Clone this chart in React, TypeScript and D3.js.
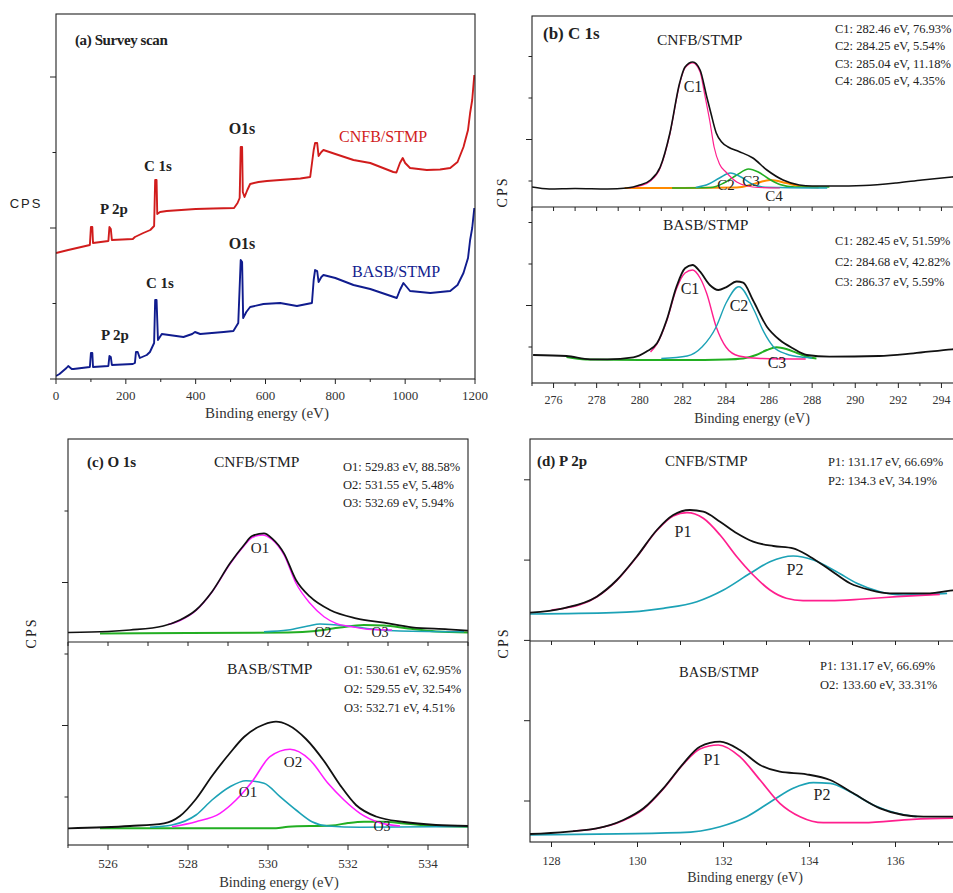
import React from "react";
import * as d3 from "d3";

type Pt = [number, number];

const SERIF = "'Liberation Serif', 'Times New Roman', Times, serif";
const SANS = "'Liberation Sans', Arial, sans-serif";

const RED = "#d11c1c";
const NAVY = "#101c8e";
const PINK = "#ff1f8e";
const MAGENTA = "#ff1cff";
const CYAN = "#1ca2b6";
const GREEN = "#22ae22";
const ORANGE = "#ff8a00";

// ---------- (a) survey scan, intensity in arbitrary units ----------
const surveyMajor = [0, 200, 400, 600, 800, 1000, 1200];
const surveyMinor = [100, 300, 500, 700, 900, 1100];

const cnfbSurvey: Pt[] = [
  [0, 126], [35, 129], [97, 134], [100, 152], [104, 152], [106, 136], [150, 138],
  [153, 152], [157, 150], [160, 139], [220, 140], [226, 142], [232, 143], [250, 146],
  [270, 149], [281, 153], [284, 199], [288, 199], [290, 165], [298, 167], [317, 168],
  [400, 170], [450, 170.5], [510, 171], [520, 176], [526, 181], [529, 232], [533, 232],
  [535, 187], [540, 182], [548, 189], [556, 195], [580, 197], [604, 198], [642, 199],
  [700, 200.5], [728, 202], [738, 229], [742, 236], [748, 236], [752, 223], [760, 227],
  [766, 229], [800, 225], [852, 219], [900, 216], [966, 207], [975, 206.5], [985, 216],
  [993, 221], [1000, 216], [1014, 211], [1062, 209], [1100, 209.5], [1129, 211],
  [1150, 217], [1167, 232], [1180, 249], [1186, 266], [1192, 279], [1198, 304],
];

const basbSurvey: Pt[] = [
  [0, 3], [10, 5], [30, 11], [35, 13], [45, 10], [50, 10], [97, 12], [100, 26], [104, 26],
  [106, 12], [150, 13], [153, 23], [157, 22], [160, 14], [220, 15], [226, 16], [229, 27],
  [234, 27], [240, 21], [260, 24], [269, 27], [281, 36], [284, 79], [288, 79], [292, 39],
  [303, 45], [365, 42], [390, 45], [398, 47], [413, 45], [480, 47], [508, 48], [522, 56],
  [529, 119], [533, 117], [536, 61], [545, 67], [556, 72], [594, 75], [642, 76], [690, 73],
  [733, 76], [738, 99], [742, 109], [748, 108], [752, 97], [760, 102], [766, 104], [800, 101],
  [852, 94], [900, 90], [976, 81], [985, 89], [995, 96], [1014, 88], [1072, 86], [1129, 88],
  [1150, 94], [1167, 106], [1180, 121], [1186, 139], [1192, 151], [1198, 171],
];

// ---------- (b) C 1s ----------
const c1sMajor = [276, 278, 280, 282, 284, 286, 288, 290, 292, 294];
const c1sMinor = [275, 277, 279, 281, 283, 285, 287, 289, 291, 293, 295];

const cnfbC1sEnv: Pt[] = [
  [275, 196], [275.8, 194], [277, 194.5], [278.5, 194], [279.4, 195], [280, 198], [280.5, 203],
  [280.95, 216], [281.4, 250], [281.85, 300], [282.1, 316], [282.46, 321], [282.8, 313],
  [283.1, 287], [283.3, 270], [283.55, 250], [283.8, 241], [284.1, 236], [284.6, 231.5],
  [285.25, 225], [285.9, 213], [286.65, 203], [287.4, 198], [288, 197], [289, 197],
  [290.4, 197.5], [291.9, 200], [293.1, 203], [294.5, 206], [295, 207],
];
const cnfbC1: Pt[] = [
  [279.5, 195], [280, 197], [280.5, 202], [280.95, 215], [281.4, 249], [281.85, 299],
  [282.1, 315], [282.46, 320], [282.8, 311], [283, 290], [283.25, 262], [283.45, 236],
  [283.7, 219], [284, 211], [284.5, 201], [285, 197], [285.5, 195.5], [286.5, 195],
];
const cnfbC2: Pt[] = [
  [282.6, 195.5], [283.2, 199], [283.7, 205], [284.2, 210], [284.7, 206], [285.2, 199],
  [285.7, 196], [286.5, 195.5], [288.7, 195],
];
const cnfbC3: Pt[] = [
  [281.5, 195], [283.3, 195.5], [283.9, 200], [284.5, 208], [285.05, 214], [285.5, 211],
  [286, 204], [286.5, 198.5], [287.2, 196], [288.8, 196],
];
const cnfbC4: Pt[] = [
  [279.3, 195], [282, 195], [284.5, 195.5], [285.3, 199], [286.05, 203], [286.8, 200],
  [287.5, 196.5], [288.3, 195.5],
];

const basbC1sEnv: Pt[] = [
  [275.05, 28], [276.6, 27], [277.7, 23.7], [278.5, 23.7], [279.7, 25.7], [280.3, 31.3],
  [280.8, 39.7], [281.25, 63], [281.7, 96], [282.1, 114.7], [282.45, 118], [282.8, 111.3],
  [283.25, 98], [283.65, 93], [284, 95.7], [284.5, 101.5], [284.8, 100.3], [285.25, 83],
  [285.9, 56.3], [286.5, 43], [287.1, 34.7], [287.75, 28], [288.8, 26.3], [291.1, 27],
  [292.7, 29.7], [294.5, 33.7], [295, 34.5],
];
const basbC1: Pt[] = [
  [280.5, 31], [280.8, 39], [281.25, 62], [281.7, 94], [282.1, 110], [282.45, 113],
  [282.8, 105], [283.1, 90], [283.55, 56], [284, 36], [284.6, 27], [285.6, 24.5], [287.7, 24],
];
const basbC2: Pt[] = [
  [281, 24.5], [282.2, 27], [282.9, 36.3], [283.55, 56.3], [284, 79.7], [284.6, 96.3],
  [285.3, 73], [285.75, 51.3], [286.2, 36.3], [286.8, 29], [287.6, 25.7], [288, 25],
];
const basbC3: Pt[] = [
  [276.6, 26], [277.5, 23.5], [280, 23], [282, 23], [284, 23.5], [284.8, 24.5], [285.4, 28],
  [285.9, 33], [286.35, 35.7], [286.8, 34], [287.3, 30], [287.8, 26], [288.2, 24.5],
];

// ---------- (c) O 1s ----------
const o1sMajor = [526, 528, 530, 532, 534];
const o1sMinor = [525, 527, 529, 531, 533, 535];

const cnfbO1sEnv: Pt[] = [
  [525, 212.5], [526, 213.5], [526.55, 215], [527.38, 219], [527.8, 225], [528.2, 235],
  [528.6, 253.3], [529.05, 281.7], [529.4, 300], [529.6, 309], [529.9, 311.7], [530.1, 306.7],
  [530.4, 291.7], [530.7, 265], [531.05, 248.3], [531.55, 235], [532.2, 226.7], [532.9, 222.3],
  [533.6, 217.7], [534.5, 215.7], [535, 214.3],
];
const cnfbO1: Pt[] = [
  [527.5, 220.5], [527.8, 224.5], [528.2, 234.5], [528.6, 253], [529.05, 281], [529.4, 299],
  [529.6, 307.5], [529.85, 310], [530.1, 305.5], [530.4, 290], [530.7, 261.7], [531.05, 241.7],
  [531.4, 228.3], [531.7, 221.7], [532.1, 218.3], [532.5, 215.7], [533.1, 215],
];
const cnfbO2: Pt[] = [
  [529.9, 213.3], [530.5, 215], [531, 219], [531.3, 221], [532, 219], [532.6, 216],
  [533.3, 214], [534.9, 213.3],
];
const cnfbO3: Pt[] = [
  [525.8, 211.5], [528, 212], [530.5, 212.5], [531.2, 214], [531.8, 217.5], [532.4, 220],
  [532.9, 219.5], [533.5, 216.5], [534.2, 213.5], [535, 212.5],
];

const basbO1sEnv: Pt[] = [
  [525, 16.7], [526.55, 19], [527.4, 21.7], [527.8, 29], [528.2, 46], [528.6, 69],
  [529.05, 92], [529.4, 108], [529.9, 120.5], [530.2, 123.3], [530.5, 120], [530.95, 106],
  [531.4, 84], [531.8, 60], [532.2, 40], [532.7, 28.5], [533.4, 23], [534.2, 20], [535, 19],
];
const basbO2: Pt[] = [
  [527.6, 18.3], [528.2, 23.3], [528.8, 31.7], [529.2, 45], [529.6, 63.3], [530.05, 88.3],
  [530.55, 95.7], [531.05, 85], [531.5, 61.7], [531.9, 45], [532.3, 31.7], [532.8, 22.3], [533.3, 19],
];
const basbO1: Pt[] = [
  [527.05, 17.7], [527.6, 20], [528.2, 30], [528.6, 45], [529.05, 58.3], [529.45, 64.3],
  [529.9, 61.7], [530.3, 48.3], [530.7, 35], [531.1, 23.3], [531.5, 19], [532.3, 17.7], [535, 18.5],
];
const basbO3: Pt[] = [
  [525.8, 16.7], [528, 16.7], [530.2, 16.7], [530.5, 18.3], [531.6, 19.5], [532, 22],
  [532.4, 23.3], [532.9, 23.3], [533.4, 21.5], [534, 19.5], [535, 18.3],
];

// ---------- (d) P 2p ----------
const p2pMajor = [128, 130, 132, 134, 136];
const p2pMinor = [129, 131, 133, 135, 137];

const cnfbP2pEnv: Pt[] = [
  [127.5, 229.3], [128.27, 233.7], [129.05, 245.3], [129.52, 262], [129.98, 285.3],
  [130.45, 312], [130.83, 327], [131.22, 332], [131.53, 330.3], [131.92, 320.3], [132.31, 308.7],
  [132.69, 300.3], [133.16, 296], [133.62, 293.7], [134.01, 285.3], [134.48, 272], [134.94, 258.7],
  [135.41, 252], [135.87, 248.7], [136.8, 248.7], [137.27, 251.3], [137.5, 252],
];
const cnfbP1: Pt[] = [
  [128, 232], [128.27, 233.5], [129.05, 245], [129.52, 261.7], [129.98, 285], [130.45, 311.5],
  [130.83, 326], [131.15, 329.3], [131.53, 323.7], [131.92, 307], [132.31, 285.3], [132.69, 267],
  [133.08, 252], [133.46, 243.7], [133.85, 241.3], [134.48, 241.3], [135.25, 243], [136.03, 245.3],
  [137.03, 247.7],
];
const cnfbP2: Pt[] = [
  [127.5, 228], [129.44, 229.3], [130.6, 233.7], [131.38, 240.3], [132, 252], [132.62, 268.7],
  [133.08, 280.3], [133.62, 286], [134.09, 282], [134.63, 270.3], [135.1, 258.7], [135.64, 250.3],
  [136.18, 247], [137.2, 248.7],
];

const basbP2pEnv: Pt[] = [
  [127.5, 8], [129.05, 13.7], [129.67, 22], [130.14, 33.7], [130.6, 53.7], [131.07, 78.7],
  [131.45, 95.3], [131.92, 100.3], [132.38, 92], [132.85, 77], [133.31, 70.3], [133.93, 67.7],
  [134.48, 62], [135.02, 48.7], [135.64, 33.7], [136.18, 27], [136.65, 25.3], [137.5, 25.3],
];
const basbP1: Pt[] = [
  [128.5, 11], [129.05, 13.5], [129.67, 21.5], [130.14, 33], [130.6, 53], [131.07, 78],
  [131.45, 93], [131.88, 97], [132.38, 85.3], [132.85, 62], [133.31, 38.7], [133.78, 25.3],
  [134.32, 19.3], [135.25, 19.3], [136.4, 22.7], [137.5, 24],
];
const basbP2: Pt[] = [
  [127.5, 7], [130.99, 9.3], [131.92, 15.3], [132.54, 25.3], [133.16, 42], [133.62, 53.7],
  [134.09, 59.3], [134.48, 58.7], [134.94, 50.3], [135.48, 37], [136.03, 28.7], [136.49, 25.3],
];

// ---------- legend texts ----------
const c1sCnfbLegend = ["C1: 282.46 eV, 76.93%", "C2: 284.25 eV, 5.54%", "C3: 285.04 eV, 11.18%", "C4: 286.05 eV, 4.35%"];
const c1sBasbLegend = ["C1: 282.45 eV, 51.59%", "C2: 284.68 eV, 42.82%", "C3: 286.37 eV, 5.59%"];
const o1sCnfbLegend = ["O1: 529.83 eV, 88.58%", "O2: 531.55 eV, 5.48%", "O3: 532.69 eV, 5.94%"];
const o1sBasbLegend = ["O1: 530.61 eV, 62.95%", "O2: 529.55 eV, 32.54%", "O3: 532.71 eV, 4.51%"];
const p2pCnfbLegend = ["P1: 131.17 eV, 66.69%", "P2: 134.3 eV, 34.19%"];
const p2pBasbLegend = ["P1: 131.17 eV, 66.69%", "O2: 133.60 eV, 33.31%"];

interface Trace { data: Pt[]; color: string; width: number; sub: number }

interface PanelProps {
  id: string;
  left: number; right: number; top: number; bottom: number; split?: number;
  xDomain: [number, number];
  xMajor: number[]; xMinor: number[];
  yStart: number; yStep: number; yMajor: (i: number) => boolean;
  traces: Trace[];
  smooth: boolean;
  tickFont: number; tickLabelY: number;
  xLabelX: number; xLabelY: number; xLabelFont: number;
  children?: React.ReactNode;
}

function Panel(p: PanelProps) {
  const x = d3.scaleLinear().domain(p.xDomain).range([p.left, p.right]);
  const y = d3.scaleLinear().domain([0, p.bottom - p.top]).range([p.bottom, p.top]);
  const line = d3.line<Pt>()
    .x((d) => x(d[0]))
    .y((d) => y(d[1]))
    .curve(p.smooth ? d3.curveMonotoneX : d3.curveLinear);
  const subs = p.split ? [[p.top, p.split], [p.split, p.bottom]] : [[p.top, p.bottom]];
  const yTicks = d3.range(p.yStart, p.bottom - p.top - 5, p.yStep);
  const ink = "#222";
  return (
    <g>
      <defs>
        {subs.map(([t, b], i) => (
          <clipPath id={`${p.id}-clip${i}`} key={i}>
            <rect x={p.left} y={t} width={p.right - p.left} height={b - t} />
          </clipPath>
        ))}
      </defs>
      {p.traces.map((tr, i) => (
        <path key={i} d={line(tr.data) || ""} fill="none" stroke={tr.color} strokeWidth={tr.width}
          strokeLinejoin="round" clipPath={`url(#${p.id}-clip${tr.sub})`} />
      ))}
      <rect x={p.left} y={p.top} width={p.right - p.left} height={p.bottom - p.top}
        fill="none" stroke={ink} strokeWidth={1.1} />
      {p.split !== undefined && (
        <g>
          <line x1={p.left} x2={p.right} y1={p.split} y2={p.split} stroke={ink} strokeWidth={1.1} />
          {[...p.xMajor, ...p.xMinor].map((v) => (
            <line key={`s${v}`} x1={x(v)} x2={x(v)} y1={p.split} y2={p.split! + 4} stroke={ink} strokeWidth={1} />
          ))}
        </g>
      )}
      {p.xMajor.map((v) => (
        <g key={`M${v}`}>
          <line x1={x(v)} x2={x(v)} y1={p.bottom} y2={p.bottom + 5} stroke={ink} strokeWidth={1} />
          <text x={x(v)} y={p.tickLabelY} fontSize={p.tickFont} textAnchor="middle" fill="#333">{v}</text>
        </g>
      ))}
      {p.xMinor.map((v) => (
        <line key={`m${v}`} x1={x(v)} x2={x(v)} y1={p.bottom} y2={p.bottom + 3} stroke={ink} strokeWidth={1} />
      ))}
      {yTicks.map((v, i) => (
        <line key={`y${i}`} x1={p.left} x2={p.left - (p.yMajor(i) ? 6 : 3.5)} y1={y(v)} y2={y(v)}
          stroke={ink} strokeWidth={1} />
      ))}
      <text x={p.xLabelX} y={p.xLabelY} fontSize={p.xLabelFont} textAnchor="middle" fill="#333">
        Binding energy (eV)
      </text>
      {p.children}
    </g>
  );
}

function Lines({ x, y0, dy, lines, size }: { x: number; y0: number; dy: number; lines: string[]; size: number }) {
  return (
    <g>
      {lines.map((s, i) => (
        <text key={i} x={x} y={y0 + i * dy} fontSize={size} fill="#222">{s}</text>
      ))}
    </g>
  );
}

function Lbl({ x, y, t, size = 15, fill = "#222", bold = false, anchor = "middle" }:
  { x: number; y: number; t: string; size?: number; fill?: string; bold?: boolean; anchor?: string }) {
  return (
    <text x={x} y={y} fontSize={size} fill={fill} fontWeight={bold ? "bold" : "normal"} textAnchor={anchor as any}>{t}</text>
  );
}

function Cps({ x, y }: { x: number; y: number }) {
  return (
    <text transform={`translate(${x},${y}) rotate(-90)`} fontSize={14} textAnchor="middle" letterSpacing={2} fill="#222">CPS</text>
  );
}

export default function App() {
  return (
    <svg width={953} height={893} fontFamily={SERIF}
      style={{ position: "absolute", left: 0, top: 0, background: "#fff", display: "block" }}>
      {/* (a) survey */}
      <Panel id="a" left={56} right={475} top={14} bottom={379} xDomain={[0, 1200]}
        xMajor={surveyMajor} xMinor={surveyMinor} yStart={0} yStep={75.5} yMajor={(i) => i % 2 === 0}
        smooth={false} tickFont={13} tickLabelY={400} xLabelX={267} xLabelY={418} xLabelFont={15}
        traces={[
          { data: cnfbSurvey, color: RED, width: 1.9, sub: 0 },
          { data: basbSurvey, color: NAVY, width: 1.9, sub: 0 },
        ]}>
        <text x={75} y={45} fontSize={15} fontWeight="bold" letterSpacing={-0.4} fill="#222">(a) Survey scan</text>
        <text x={26} y={208} fontSize={13} fontFamily={SANS} textAnchor="middle" letterSpacing={2} fill="#222">CPS</text>
        <Lbl x={339} y={142} t="CNFB/STMP" size={16} fill={RED} anchor="start" />
        <Lbl x={352} y={277} t="BASB/STMP" size={16} fill={NAVY} anchor="start" />
        <Lbl x={242} y={134} t="O1s" size={16} bold />
        <Lbl x={242} y={249} t="O1s" size={16} bold />
        <Lbl x={158} y={171} t="C 1s" size={15} bold />
        <Lbl x={160} y={288} t="C 1s" size={15} bold />
        <Lbl x={114} y={214} t="P 2p" size={15} bold />
        <Lbl x={115} y={340} t="P 2p" size={15} bold />
      </Panel>

      {/* (b) C 1s */}
      <Panel id="b" left={532} right={963} top={16} bottom={383} split={207} xDomain={[275, 295]}
        xMajor={c1sMajor} xMinor={c1sMinor} yStart={36} yStep={41.5} yMajor={(i) => i % 4 === 1}
        smooth tickFont={12} tickLabelY={404} xLabelX={752} xLabelY={423} xLabelFont={14}
        traces={[
          { data: cnfbC4, color: ORANGE, width: 2, sub: 0 },
          { data: cnfbC3, color: GREEN, width: 1.5, sub: 0 },
          { data: cnfbC2, color: CYAN, width: 1.5, sub: 0 },
          { data: cnfbC1, color: PINK, width: 1.2, sub: 0 },
          { data: cnfbC1sEnv, color: "#111", width: 1.6, sub: 0 },
          { data: basbC3, color: GREEN, width: 2, sub: 1 },
          { data: basbC1, color: PINK, width: 1.4, sub: 1 },
          { data: basbC2, color: CYAN, width: 1.4, sub: 1 },
          { data: basbC1sEnv, color: "#111", width: 1.8, sub: 1 },
        ]}>
        <Cps x={507} y={192} />
        <text x={543} y={39} fontSize={17} fontWeight="bold" fill="#222">(b) C 1s</text>
        <Lbl x={657} y={45} t="CNFB/STMP" size={15.5} anchor="start" />
        <Lines x={835} y0={33} dy={17.3} lines={c1sCnfbLegend} size={12.5} />
        <Lbl x={693} y={92} t="C1" size={16} />
        <Lbl x={726} y={190} t="C2" size={15} />
        <Lbl x={751} y={186} t="C3" size={15} />
        <Lbl x={774} y={201} t="C4" size={15} />
        <Lbl x={663} y={230} t="BASB/STMP" size={15.5} anchor="start" />
        <Lines x={835} y0={245} dy={20.5} lines={c1sBasbLegend} size={12.4} />
        <Lbl x={690} y={294} t="C1" size={16} />
        <Lbl x={739} y={311} t="C2" size={16} />
        <Lbl x={777} y={368} t="C3" size={16} />
      </Panel>

      {/* (c) O 1s */}
      <Panel id="c" left={68} right={468} top={439} bottom={845} split={642} xDomain={[525, 535]}
        xMajor={o1sMajor} xMinor={o1sMinor} yStart={48} yStep={71.5} yMajor={(i) => i % 2 === 1}
        smooth tickFont={13} tickLabelY={868} xLabelX={279} xLabelY={887} xLabelFont={14.5}
        traces={[
          { data: cnfbO3, color: GREEN, width: 2, sub: 0 },
          { data: cnfbO2, color: CYAN, width: 1.6, sub: 0 },
          { data: cnfbO1, color: MAGENTA, width: 1.4, sub: 0 },
          { data: cnfbO1sEnv, color: "#111", width: 1.7, sub: 0 },
          { data: basbO3, color: GREEN, width: 2, sub: 1 },
          { data: basbO1, color: CYAN, width: 1.6, sub: 1 },
          { data: basbO2, color: MAGENTA, width: 1.6, sub: 1 },
          { data: basbO1sEnv, color: "#111", width: 1.8, sub: 1 },
        ]}>
        <Cps x={36} y={633} />
        <text x={87} y={467} fontSize={15} fontWeight="bold" fill="#222">(c) O 1s</text>
        <Lbl x={214} y={467} t="CNFB/STMP" size={15.5} anchor="start" />
        <Lines x={343} y0={471} dy={18} lines={o1sCnfbLegend} size={12.5} />
        <Lbl x={260} y={553} t="O1" size={15} />
        <Lbl x={323} y={637} t="O2" size={14} />
        <Lbl x={380} y={637} t="O3" size={14} />
        <Lbl x={227} y={674} t="BASB/STMP" size={15.5} anchor="start" />
        <Lines x={344} y0={674} dy={19} lines={o1sBasbLegend} size={12.5} />
        <Lbl x={293} y={767} t="O2" size={15} />
        <Lbl x={248} y={797} t="O1" size={15} />
        <Lbl x={382} y={831} t="O3" size={14} />
      </Panel>

      {/* (d) P 2p */}
      <Panel id="d" left={530} right={960} top={439} bottom={842} split={641} xDomain={[127.5, 137.5]}
        xMajor={p2pMajor} xMinor={p2pMinor} yStart={41} yStep={80.3} yMajor={() => true}
        smooth tickFont={12} tickLabelY={865} xLabelX={745} xLabelY={882} xLabelFont={14}
        traces={[
          { data: cnfbP2, color: CYAN, width: 1.7, sub: 0 },
          { data: cnfbP1, color: PINK, width: 1.7, sub: 0 },
          { data: cnfbP2pEnv, color: "#111", width: 1.8, sub: 0 },
          { data: basbP2, color: CYAN, width: 1.7, sub: 1 },
          { data: basbP1, color: PINK, width: 1.7, sub: 1 },
          { data: basbP2pEnv, color: "#111", width: 1.8, sub: 1 },
        ]}>
        <Cps x={508} y={643} />
        <text x={537} y={466} fontSize={15} fontWeight="bold" fill="#222">(d) P 2p</text>
        <Lbl x={665} y={466} t="CNFB/STMP" size={15} anchor="start" />
        <Lines x={828} y0={466} dy={19} lines={p2pCnfbLegend} size={12.5} />
        <Lbl x={683} y={537} t="P1" size={16} />
        <Lbl x={795} y={575} t="P2" size={16} />
        <Lbl x={679} y={677} t="BASB/STMP" size={14.5} anchor="start" />
        <Lines x={820} y0={670} dy={19} lines={p2pBasbLegend} size={12.5} />
        <Lbl x={712} y={765} t="P1" size={16} />
        <Lbl x={822} y={800} t="P2" size={16} />
      </Panel>
    </svg>
  );
}
